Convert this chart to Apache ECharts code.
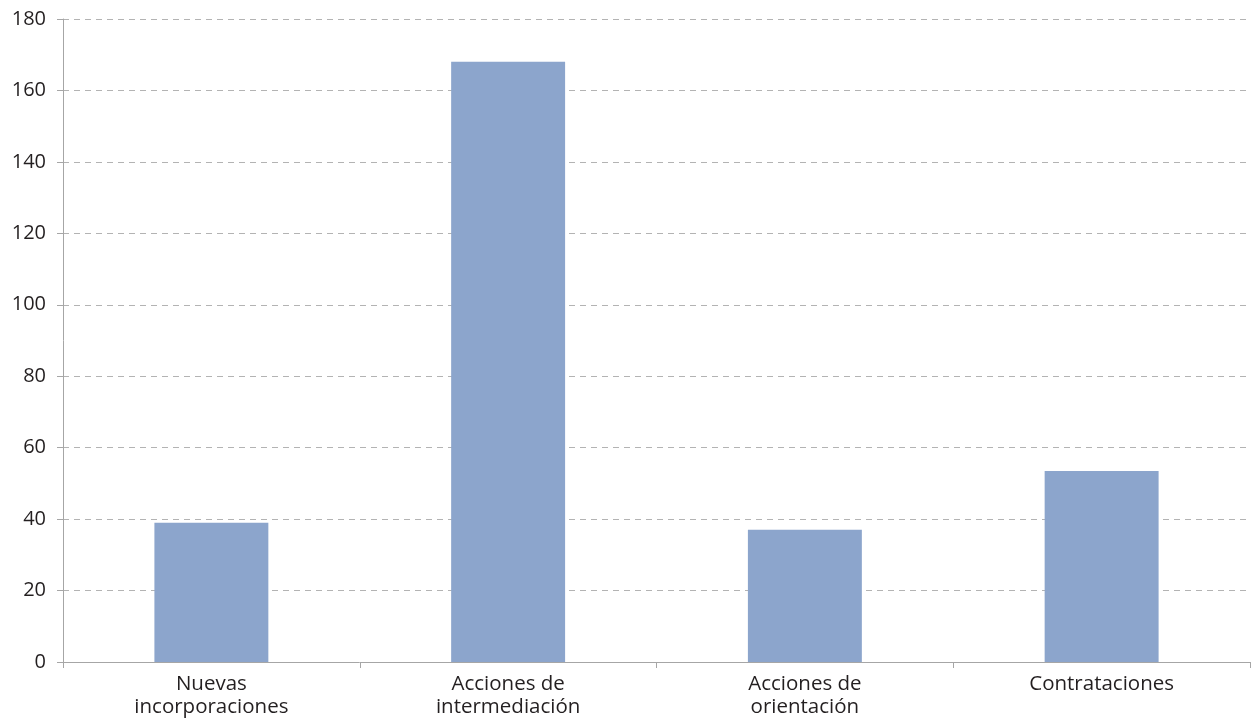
<!DOCTYPE html>
<html><head><meta charset="utf-8">
<script src="https://cdn.jsdelivr.net/npm/echarts@6/dist/echarts.min.js"></script>
<style>html,body{margin:0;padding:0;background:#fff}#c{width:1253px;height:723px}</style>
</head><body><div id="c"></div>
<script>
const categories = ['Nuevas\nincorporaciones', 'Acciones de\nintermediación', 'Acciones de\norientación', 'Contrataciones'];
const values = [39, 168, 37, 53.5];
const yTicks = { min: 0, max: 180, interval: 20 };

const chart = echarts.init(document.getElementById('c'), null, { renderer: 'canvas' });
chart.setOption({
  animation: false,
  grid: { left: 63, right: 3, top: 19, bottom: 61, containLabel: false },
  xAxis: {
    type: 'category', data: categories,
    axisLine: { lineStyle: { color: '#a6a6a6', width: 1 } },
    axisTick: { show: true, length: 6, alignWithLabel: false, lineStyle: { color: '#a6a6a6' } },
    axisLabel: { color: '#231f20', fontSize: 20.5, fontFamily: 'Open Sans', lineHeight: 23, margin: 11, interval: 0 }
  },
  yAxis: {
    type: 'value', min: yTicks.min, max: yTicks.max, interval: yTicks.interval,
    axisLine: { show: true, lineStyle: { color: '#a6a6a6', width: 1 } },
    axisTick: { show: true, length: 6, inside: false, lineStyle: { color: '#a6a6a6' } },
    axisLabel: { color: '#231f20', fontSize: 20, fontFamily: 'Open Sans', margin: 17 },
    splitLine: { show: true, lineStyle: { color: '#b3b3b3', type: [6, 5], width: 1 } }
  },
  series: [{
    type: 'bar', data: values, barWidth: '38.4%',
    itemStyle: { color: '#8ca5cc' }
  }]
});
</script></body></html>
